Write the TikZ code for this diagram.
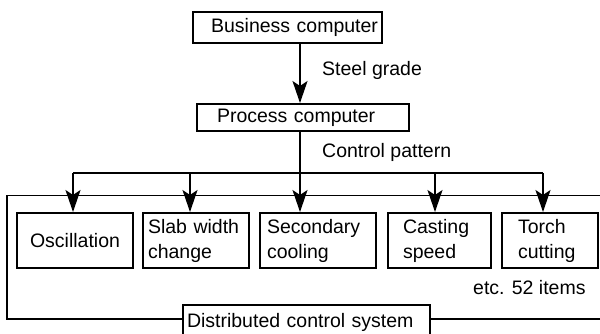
\documentclass[tikz,border=0pt]{standalone}
\usepackage{fontspec}
\setmainfont{Liberation Sans}
\usetikzlibrary{arrows.meta}
\begin{document}
\begin{tikzpicture}[x=1pt,y=-1pt,
  every node/.style={font=\fontsize{19.5}{25}\selectfont},
  unit/.style={draw, line width=2pt, rectangle, inner ysep=0pt, align=left},
  wire/.style={line width=1.8pt},
  feed/.style={wire, -{Stealth[length=22pt,width=15pt,inset=5pt]}},
  caption/.style={anchor=west, inner sep=0pt}
]
\useasboundingbox (0,0) rectangle (600,334);

% computers
\node[unit, align=right, inner xsep=4pt, text width=181pt, minimum height=31pt]
  (bc) at (287.5,27.5) {Business computer};
\node[unit, inner xsep=20pt, text width=172pt, minimum height=27pt]
  (pc) at (303,117.5) {Process computer};

% controlled functions
\node[unit, align=center, minimum width=116pt, minimum height=55pt, inner xsep=0pt]
  (osc) at (75,240.5) {Oscillation};
\node[unit, inner xsep=5pt, text width=96pt, minimum height=55pt]
  (slab) at (196,240.5) {Slab width\\change};
\node[unit, inner xsep=7pt, text width=102pt, minimum height=55pt]
  (sec) at (318,240.5) {Secondary\\cooling};
\node[unit, inner xsep=15pt, text width=73pt, minimum height=55pt]
  (cast) at (439.5,240.5) {Casting\\speed};
\node[unit, inner xsep=16pt, text width=64pt, minimum height=55pt]
  (torch) at (550,240.5) {Torch\\cutting};

% distributed control system
\node[unit, inner xsep=4pt, text width=239pt, minimum height=34pt]
  (dcs) at (306.5,322) {Distributed control system};

% labels
\node[caption] (steel) at (322,70) {Steel grade};
\node[caption] (pattern) at (322,152) {Control pattern};
\node[caption] (etc) at (473,288) {etc. 52 items};

% trunk and branch points
\coordinate (t0) at (300,173);
\coordinate (b1) at (73,173);
\coordinate (b2) at (190,173);
\coordinate (b4) at (435,173);
\coordinate (b5) at (543,173);

\draw[feed] (t0 |- bc.south) -- (t0 |- pc.north);
\draw[wire] (t0 |- pc.south) -- (t0);
\draw[wire] (b1) -- (b5);
\draw[feed] (b1) -- (b1 |- osc.north);
\draw[feed] (b2) -- (b2 |- slab.north);
\draw[feed] (t0) -- (t0 |- sec.north);
\draw[feed] (b4) -- (b4 |- cast.north);
\draw[feed] (b5) -- (b5 |- torch.north);

% enclosing frame of the distributed control system
\coordinate (ftr) at (610,195.5);
\coordinate (ftl) at (7,195.5);
\coordinate (fbl) at (7,319);
\coordinate (fbr) at (610,319);
\draw[wire] (ftr) -- (ftl) -- (fbl) -- (dcs.west |- fbl);
\draw[wire] (dcs.east |- fbr) -- (fbr);
\end{tikzpicture}
\end{document}
